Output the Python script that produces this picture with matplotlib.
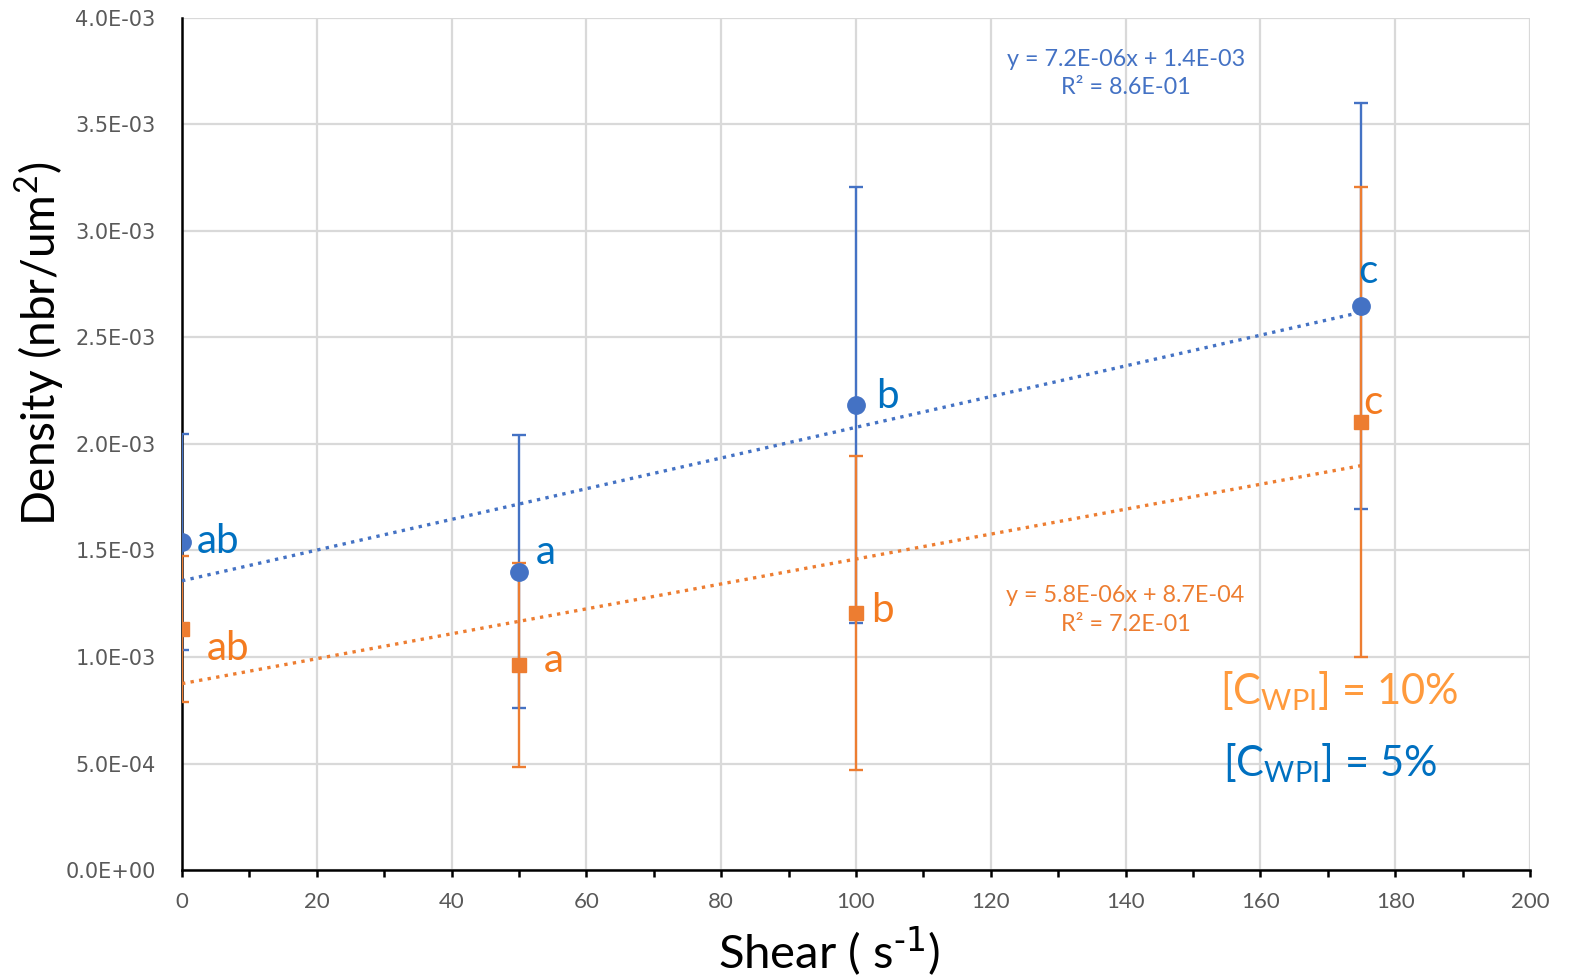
import numpy as np
import matplotlib
matplotlib.use("Agg")
import matplotlib.pyplot as plt
from matplotlib.ticker import MultipleLocator, FuncFormatter

# data
shear = [0, 50, 100, 175]
dens_5 = [1.540e-3, 1.400e-3, 2.183e-3, 2.650e-3]
err_5 = [0.505e-3, 0.640e-3, 1.024e-3, 0.953e-3]
dens_10 = [1.131e-3, 0.962e-3, 1.205e-3, 2.103e-3]
err_10 = [0.343e-3, 0.479e-3, 0.737e-3, 1.103e-3]
letters_5 = ["ab", "a", "b", "c"]
letters_10 = ["ab", "a", "b", "c"]
eq_5 = "y = 7.2E-06x + 1.4E-03\nR² = 8.6E-01"
eq_10 = "y = 5.8E-06x + 8.7E-04\nR² = 7.2E-01"

BLUE = "#4472C4"; ORANGE = "#ED7D31"
BLUE_TXT = "#0070C0"; ORANGE_TXT = "#F47B20"; ORANGE_LEG = "#FF9A3C"
FONT = "Lato"

fig = plt.figure(figsize=(15.76, 9.76), dpi=100)
ax = fig.add_axes([0.1155, 0.1086, 0.9708 - 0.1155, 0.9816 - 0.1086])

# error bars first, then markers on top (Excel draw order)
ax.errorbar(shear, dens_5, yerr=err_5, fmt="none", ecolor=BLUE, elinewidth=1.7,
            capsize=5, capthick=1.7, zorder=3)
ax.errorbar(shear, dens_10, yerr=err_10, fmt="none", ecolor=ORANGE, elinewidth=1.7,
            capsize=5, capthick=1.7, zorder=3.1)

# linear trendlines over the data range
xs = np.array([min(shear), max(shear)], dtype=float)
for y, c in [(dens_5, BLUE), (dens_10, ORANGE)]:
    k, b = np.polyfit(shear, y, 1)
    ax.plot(xs, k * xs + b, color=c, lw=2.4, ls=(0, (1, 1.6)), zorder=3.5)

ax.plot(shear, dens_5, "o", color=BLUE, ms=12.5, zorder=4)
ax.plot(shear, dens_10, "s", color=ORANGE, ms=10, zorder=4.1)

# significance letters (offsets in data units)
off_5 = [(2.2, 0.0), (2.5, 0.09e-3), (3.0, 0.04e-3), (-0.5, 0.16e-3)]
off_10 = [(3.6, -0.09e-3), (3.6, 0.02e-3), (2.2, 0.015e-3), (0.3, 0.09e-3)]
for x, y, t, (dx, dy) in zip(shear, dens_5, letters_5, off_5):
    ax.text(x + dx, y + dy, t, color=BLUE_TXT, fontsize=29, family=FONT,
            ha="left", va="center", zorder=5)
for x, y, t, (dx, dy) in zip(shear, dens_10, letters_10, off_10):
    ax.text(x + dx, y + dy, t, color=ORANGE_TXT, fontsize=29, family=FONT,
            ha="left", va="center", zorder=5)

ax.text(140, 3.74e-3, eq_5, color=BLUE, fontsize=16.8, family=FONT,
        ha="center", va="center", linespacing=1.45)
ax.text(140, 1.22e-3, eq_10, color=ORANGE, fontsize=16.8, family=FONT,
        ha="center", va="center", linespacing=1.45)

ax.text(154, 0.84e-3, r"[C$_{\mathregular{WPI}}$] = 10%", color=ORANGE_LEG,
        fontsize=30, family=FONT, ha="left", va="center")
ax.text(154.4, 0.50e-3, r"[C$_{\mathregular{WPI}}$] = 5%", color=BLUE_TXT,
        fontsize=30, family=FONT, ha="left", va="center")

ax.set_xlim(0, 200); ax.set_ylim(0, 4.0e-3)
ax.xaxis.set_major_locator(MultipleLocator(20))
ax.xaxis.set_minor_locator(MultipleLocator(10))
ax.yaxis.set_major_locator(MultipleLocator(0.5e-3))
ax.yaxis.set_major_formatter(FuncFormatter(lambda v, p: f"{v:.1E}"))
ax.grid(True, which="major", color="#D9D9D9", lw=1.6, zorder=0)
ax.set_axisbelow(True)
for s in ["top", "right"]:
    ax.spines[s].set_visible(False)
ax.spines["left"].set_color("black"); ax.spines["left"].set_linewidth(1.8)
ax.spines["bottom"].set_color("black"); ax.spines["bottom"].set_linewidth(1.8)
ax.tick_params(axis="x", which="both", direction="out", length=5, width=1.8,
               color="black", labelsize=16, labelcolor="#595959", pad=11)
ax.tick_params(axis="y", length=0, labelsize=15, labelcolor="#595959", pad=19)
for lab in ax.get_xticklabels():
    lab.set_family(FONT)
for lab in ax.get_yticklabels():
    lab.set_family("DejaVu Sans")

ax.set_xlabel(r"Shear ( s$^{\text{-1}}$)", fontsize=34, family=FONT)
ax.xaxis.set_label_coords(0.48, -0.064)
ax.set_ylabel(r"Density (nbr/um$^{\mathregular{2}}$)", fontsize=33, family=FONT)
ax.yaxis.set_label_coords(-0.085, 0.617)

fig.savefig("out.png", dpi=100)
